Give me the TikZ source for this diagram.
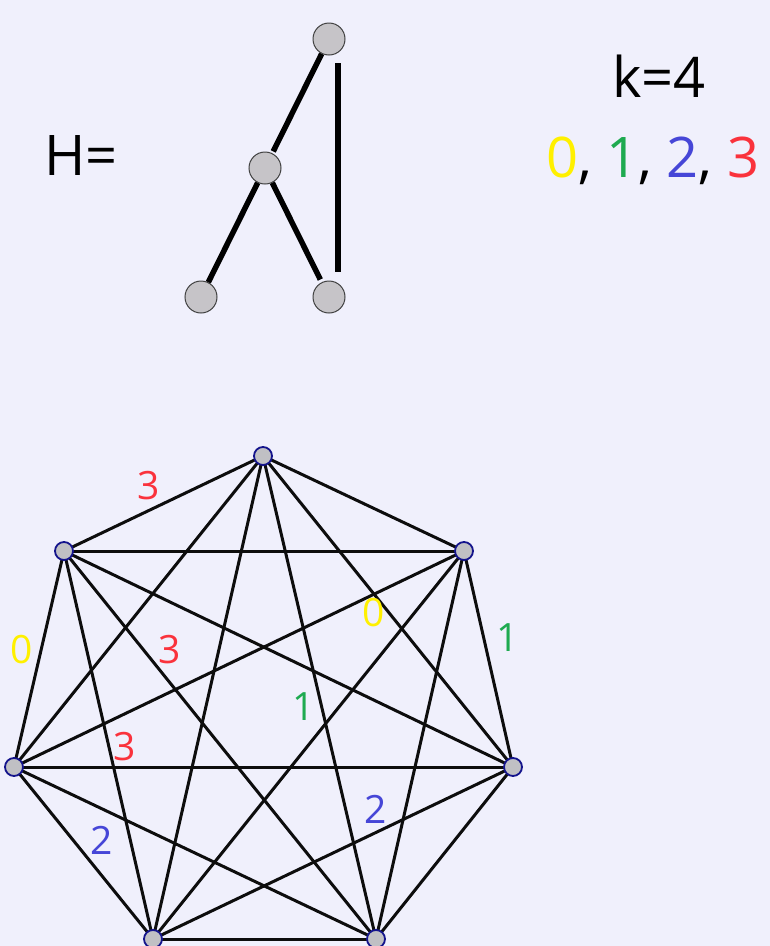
\documentclass[tikz,border=0pt]{standalone}
\usepackage{fontspec}
\setmainfont{Open Sans}
\usetikzlibrary{calc}
\definecolor{bg}{RGB}{240,240,252}
\definecolor{cyel}{RGB}{255,240,0}
\definecolor{cgrn}{RGB}{30,170,80}
\definecolor{cblu}{RGB}{70,70,215}
\definecolor{cred}{RGB}{250,50,60}
\definecolor{hfill}{RGB}{198,196,200}
\definecolor{kfill}{RGB}{192,192,196}
\definecolor{kline}{RGB}{20,20,140}
\tikzset{
  hnode/.style={circle,draw=black!75,line width=1pt,fill=hfill,minimum size=32pt,inner sep=0pt},
  hedge/.style={line width=5.5pt,black},
  knode/.style={circle,draw=kline,line width=1.8pt,fill=kfill,minimum size=18pt,inner sep=0pt},
  kedge/.style={line width=3pt,black!95},
  big/.style={font=\fontsize{56pt}{60pt}\selectfont,inner sep=0pt,anchor=base west},
  lab/.style={font=\fontsize{39pt}{42pt}\selectfont,inner sep=0pt},
}
\begin{document}
\begin{tikzpicture}[x=1pt,y=-1pt]
\fill[bg] (0,0) rectangle (770,946);
\useasboundingbox (0,0) rectangle (770,946);
% H graph
\node[hnode] (T) at (329,39) {};
\node[hnode] (M) at (265,168) {};
\node[hnode] (L) at (201,297) {};
\node[hnode] (R) at (329,297) {};
\draw[hedge,shorten >=2pt] (T) -- (M);
\draw[hedge] (M) -- (L);
\draw[hedge,shorten >=3pt] (M) -- (R);
\coordinate (vt) at ($(T)+(9,24)$);
\coordinate (vb) at ($(R)+(9,-25)$);
\draw[hedge] (vt) -- (vb);
\node[big] (Hl) at (44,175) {H=};
\node[big] (kl) at (612,97) {k=4};
\node[big] (cl) at (546,177) {\textcolor{cyel}{0}, \textcolor{cgrn}{1}, \textcolor{cblu}{2}, \textcolor{cred}{3}};
% K7
\coordinate (A) at (263,456);
\coordinate (B) at (64,551);
\coordinate (C) at (464,551);
\coordinate (D) at (14,767);
\coordinate (E) at (513,767);
\coordinate (F) at (153,939);
\coordinate (G) at (376,939);
\foreach \u/\v in {A/B,A/C,A/D,A/E,A/F,A/G,B/C,B/D,B/E,B/F,B/G,C/D,C/E,C/F,C/G,D/E,D/F,D/G,E/F,E/G,F/G}
  \draw[kedge] (\u) -- (\v);
\foreach \p in {A,B,C,D,E,F,G}
  \node[knode] (n\p) at (\p) {};
% labels
\node[lab,text=cred] (l1) at (149,486) {3};
\node[lab,text=cyel] (l2) at (22,650) {0};
\node[lab,text=cred] (l3) at (170,650) {3};
\node[lab,text=cyel] (l4) at (374,613) {0};
\node[lab,text=cgrn] (l5) at (508,638) {1};
\node[lab,text=cgrn] (l6) at (304,707) {1};
\node[lab,text=cred] (l7) at (125,747) {3};
\node[lab,text=cblu] (l8) at (102,840) {2};
\node[lab,text=cblu] (l9) at (376,809) {2};
\end{tikzpicture}
\end{document}
